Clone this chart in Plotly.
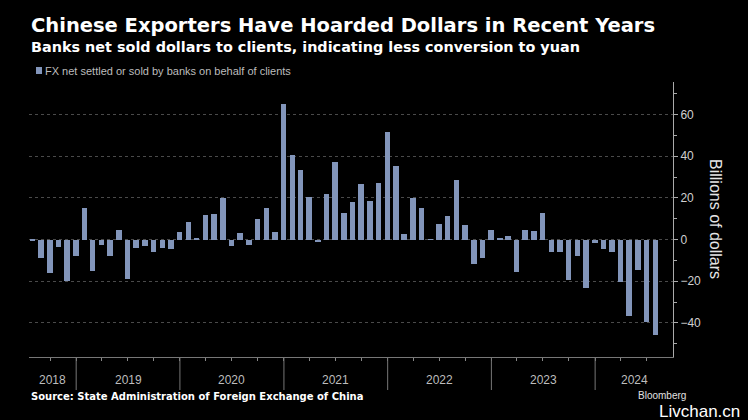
import plotly.graph_objects as go
import pandas as pd

# ---- Data (billions of USD, month-end) ----
months = pd.date_range("2018-07-31", "2024-07-31", freq="ME")
v2018 = [-0.5, -9.1, -16.0, -3.5, -19.8, -7.8]
v2019 = [14.9, -15.0, -2.4, -7.8, 4.8, -19.0, -4.0, -3.2, -5.8, -4.0, -4.6, 3.5]
v2020 = [8.3, 0.6, 11.7, 12.2, 20.0, -3.0, 3.0, -2.4, 9.8, 15.0, 3.7, 65.1]
v2021 = [40.5, 33.3, 20.3, -1.1, 21.8, 37.1, 12.8, 18.1, 26.7, 18.4, 27.2, 51.5]
v2022 = [35.2, 2.6, 20.0, 15.0, 0.2, 7.5, 11.4, 28.6, 6.9, -11.7, -9.1, 4.8]
v2023 = [0.6, 1.6, -15.5, 4.8, 4.2, 12.6, -5.8, -5.9, -19.4, -7.8, -23.2, -1.6]
v2024 = [-4.4, -5.9, -20.2, -36.6, -14.4, -39.5, -45.6]
values = v2018 + v2019 + v2020 + v2021 + v2022 + v2023 + v2024
years = [2018, 2019, 2020, 2021, 2022, 2023, 2024]

title = "Chinese Exporters Have Hoarded Dollars in Recent Years"
subtitle = "Banks net sold dollars to clients, indicating less conversion to yuan"
series_name = "FX net settled or sold by banks on behalf of clients"
source = "Source: State Administration of Foreign Exchange of China"

# ---- Layout geometry ----
W, H = 748, 420
ML, MR, MT, MB = 29, 75, 82, 63
PW, PH = W - ML - MR, H - MT - MB
x_start, x_end = pd.Timestamp("2018-07-19"), pd.Timestamp("2024-10-01")
bar_color = "#8295BA"


def px(x):
    return (x - ML) / PW


def py(y):
    return (H - MB - y) / PH


fig = go.Figure()
fig.add_trace(go.Bar(
    x=months, y=values, name=series_name,
    marker=dict(color=bar_color, line=dict(width=0)),
    width=19.5 * 86400000, showlegend=False,
))

annotations = []
shapes = []

# titles
annotations.append(dict(text=title, xref="paper", yref="paper", x=px(29), y=py(25),
                        xanchor="left", yanchor="middle", showarrow=False,
                        font=dict(family="DejaVu Sans", size=19.5, color="white", weight="bold")))
annotations.append(dict(text=subtitle, xref="paper", yref="paper", x=px(29), y=py(47),
                        xanchor="left", yanchor="middle", showarrow=False,
                        font=dict(family="DejaVu Sans", size=14.4, color="white", weight="bold")))
# legend
shapes.append(dict(type="rect", xref="paper", yref="paper", x0=px(36), x1=px(42),
                   y0=py(74), y1=py(67), fillcolor=bar_color, line=dict(width=0)))
annotations.append(dict(text=series_name, xref="paper", yref="paper", x=px(43), y=py(70.5),
                        xanchor="left", yanchor="middle", showarrow=False,
                        font=dict(family="Liberation Sans", size=11, color="#bdbdbd")))
# source & branding
annotations.append(dict(text=source, xref="paper", yref="paper", x=px(29), y=py(396),
                        xanchor="left", yanchor="middle", showarrow=False,
                        font=dict(family="DejaVu Sans", size=10, color="white", weight="bold")))
annotations.append(dict(text="Bloomberg", xref="paper", yref="paper", x=px(636), y=py(395),
                        xanchor="left", yanchor="middle", showarrow=False,
                        font=dict(family="Liberation Sans", size=10, color="#e0e0e0")))
annotations.append(dict(text="Livchan.cn", xref="paper", yref="paper", x=px(742), y=py(411),
                        xanchor="right", yanchor="middle", showarrow=False,
                        font=dict(family="Liberation Sans", size=17, color="white")))
# y-axis title (reads top to bottom)
annotations.append(dict(text="Billions of dollars", xref="paper", yref="paper", x=px(716), y=py(219),
                        xanchor="center", yanchor="middle", textangle=90, showarrow=False,
                        font=dict(family="Liberation Sans", size=16, color="#e6e6e6")))

# year separators and year labels
for yr in years:
    y0 = max(pd.Timestamp(f"{yr}-01-01"), x_start)
    y1 = min(pd.Timestamp(f"{yr + 1}-01-01"), x_end)
    if yr > years[0]:
        shapes.append(dict(type="line", xref="x", yref="paper", x0=f"{yr}-01-01", x1=f"{yr}-01-01",
                           y0=0, y1=py(390), line=dict(color="#777777", width=1)))
    mid = y0 + (y1 - y0) / 2
    annotations.append(dict(text=str(yr), xref="x", yref="paper", x=mid, y=py(380),
                            xanchor="center", yanchor="middle", showarrow=False,
                            font=dict(family="Liberation Sans", size=12, color="#bdbdbd")))

quarters = pd.date_range("2018-10-01", "2024-07-01", freq="QS")

fig.update_layout(
    width=W, height=H,
    margin=dict(l=ML, r=MR, t=MT, b=MB),
    paper_bgcolor="black", plot_bgcolor="black",
    bargap=0,
    annotations=annotations, shapes=shapes,
    xaxis=dict(type="date", range=[x_start, x_end], showgrid=False, zeroline=False,
               showline=True, linecolor="#777777", linewidth=1,
               tickmode="array", tickvals=list(quarters), ticks="outside", ticklen=3,
               tickcolor="#888888", showticklabels=False),
    yaxis=dict(side="right", range=[-56.4, 75.6], tick0=0, dtick=20,
               showgrid=True, gridcolor="#4a4a4a", griddash="dot", gridwidth=1,
               zeroline=False, showline=True, linecolor="#aaaaaa", linewidth=1,
               ticks="outside", ticklen=4, tickcolor="#aaaaaa",
               minor=dict(tick0=0, dtick=10, ticks="outside", ticklen=3, tickcolor="#aaaaaa", showgrid=False),
               tickfont=dict(family="Liberation Sans", size=12, color="#d0d0d0")),
)

fig.write_html("out.html")
